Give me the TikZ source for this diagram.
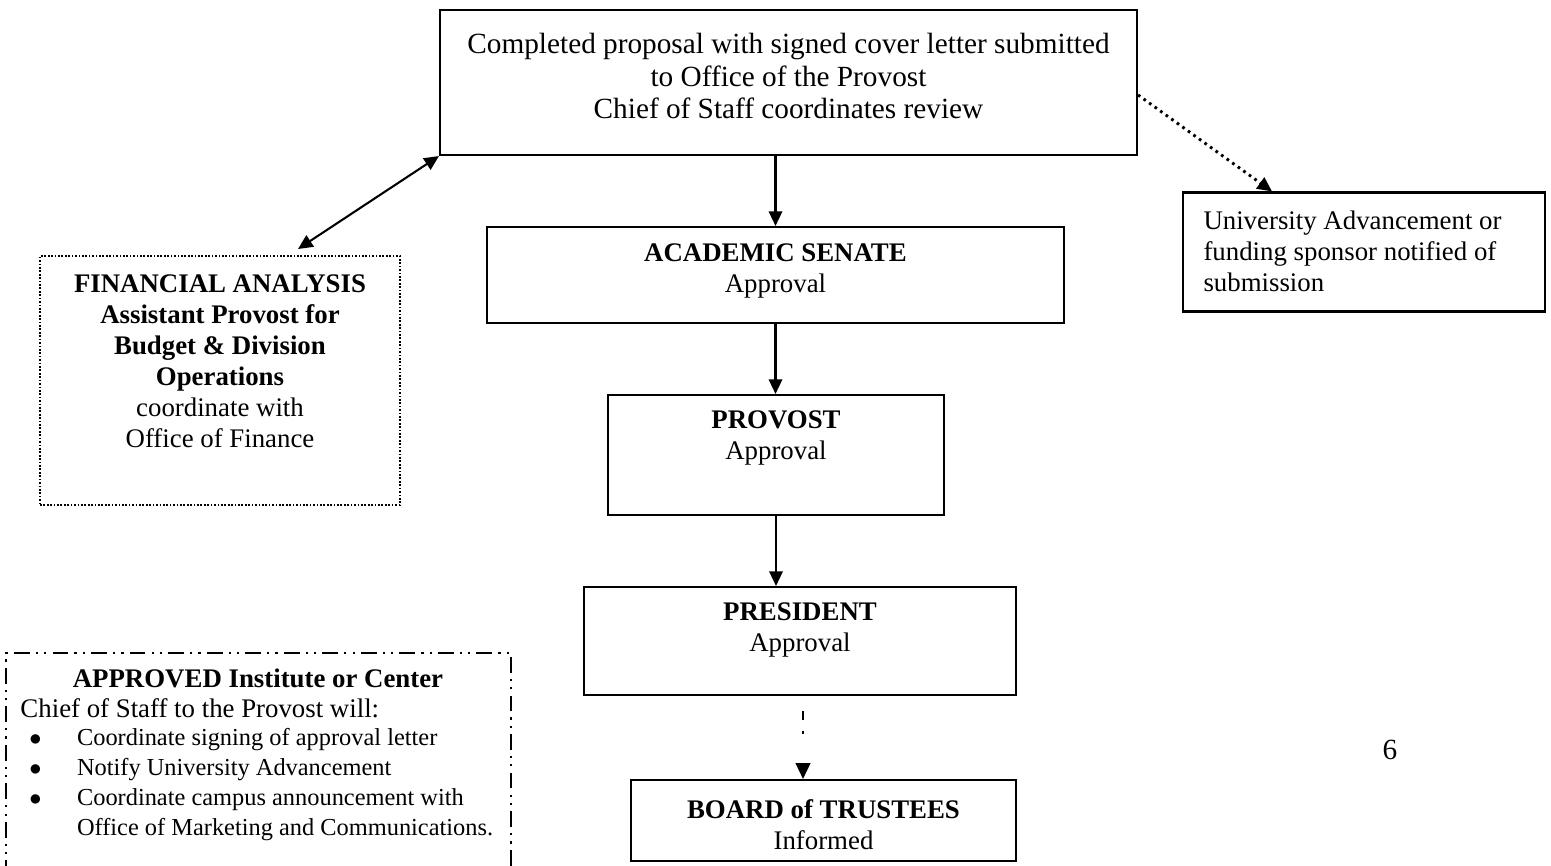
\documentclass[tikz,border=0pt]{standalone}
\usepackage{fontspec}
\setmainfont{Liberation Serif}
\usetikzlibrary{arrows.meta}
\begin{document}
\def\P{0.41pt}
\begin{tikzpicture}[x=0.41pt,y=-0.41pt,
  box/.style={draw, line width=0.85pt, inner sep=0pt},
  finbox/.style={draw, line width=0.8pt, dash pattern=on 0.7pt off 0.7pt, inner sep=0pt},
  apprbox/.style={draw, line width=0.7pt, dash pattern=on 6.5pt off 2.5pt on 0.9pt off 2.5pt on 0.9pt off 2.5pt, inner sep=0pt},
  txt/.style={inner sep=0pt, align=center, font=\fontsize{11}{12.7}\selectfont},
  arr/.style={line width=0.85pt, -{Triangle[length=6pt,width=5.5pt]}},
  dblarr/.style={line width=0.85pt, {Triangle[length=6pt,width=5.5pt]}-{Triangle[length=6pt,width=5.5pt]}},
  dotarr/.style={line width=1.2pt, dash pattern=on 1.1pt off 1.7pt, -{Triangle[length=6pt,width=5.5pt]}},
  dashdotarr/.style={line width=0.85pt, dash pattern=on 4pt off 4.5pt on 0.9pt off 20pt, -{Triangle[length=6.5pt,width=6pt]}},
]
\useasboundingbox (0,0) rectangle (1551,865);
\clip (0,0) rectangle (1551,865);
\fill[white] (0,0) rectangle (1551,865);

% boxes
\node[box, minimum width=697*\P, minimum height=145*\P] (top) at (788.5,82.5) {};
\node[txt, font=\fontsize{12}{13.3}\selectfont] (toptxt) at (788.5,76) {Completed proposal with signed cover letter submitted\\to Office of the Provost\\Chief of Staff coordinates review};

\node[box, minimum width=577*\P, minimum height=96*\P] (acad) at (775.5,275) {};
\node[txt] (acadtxt) at (775.5,270.5) {\textbf{ACADEMIC SENATE}\\Approval};

\node[box, minimum width=336*\P, minimum height=120*\P] (prov) at (776,455) {};
\node[txt] (provtxt) at (776,437.5) {\textbf{PROVOST}\\Approval};

\node[box, minimum width=432*\P, minimum height=108*\P] (pres) at (800,641) {};
\node[txt] (prestxt) at (800,629.5) {\textbf{PRESIDENT}\\Approval};

\node[box, minimum width=385*\P, minimum height=81*\P] (board) at (823.5,820.5) {};
\node[txt] (boardtxt) at (823.5,825) {\textbf{BOARD of TRUSTEES}\\Informed};

\node[box, minimum width=362*\P, minimum height=119*\P] (univ) at (1364,252) {};
\node[txt, align=left, anchor=west] (univtxt) at (1203,251) {University Advancement or\\funding sponsor notified of\\submission};

\node[finbox, minimum width=360*\P, minimum height=249*\P] (fin) at (220,380.5) {};
\node[txt] (fintxt) at (220,361.5) {\textbf{FINANCIAL ANALYSIS}\\\textbf{Assistant Provost for}\\\textbf{Budget \& Division}\\\textbf{Operations}\\coordinate with\\Office of Finance};

\node[apprbox, minimum width=505*\P, minimum height=247*\P] (appr) at (258.5,776.5) {};
\node[txt] (apprtitle) at (258,678) {\textbf{APPROVED Institute or Center}};
\node[txt, anchor=west] (apprchief) at (20,708) {Chief of Staff to the Provost will:};
\node[txt, align=left, anchor=west, font=\fontsize{10}{12.3}\selectfont] (apprlist) at (29,784.5)
  {\makebox[19.5pt][l]{$\bullet$}Coordinate signing of approval letter\\
   \makebox[19.5pt][l]{$\bullet$}Notify University Advancement\\
   \makebox[19.5pt][l]{$\bullet$}Coordinate campus announcement with\\
   \hspace*{19.5pt}Office of Marketing and Communications.};

\node[txt, font=\fontsize{12}{14}\selectfont] (pagenum) at (1390,750) {6};

% connectors
\draw[arr] (top.south -| acad.north) -- (acad.north);
\draw[arr] (acad.south) -- (acad.south |- prov.north);
\draw[arr] (prov.south) -- (prov.south |- pres.north);
\coordinate (bx) at (803,0);
\draw[dashdotarr, shorten <=6pt] (pres.south -| bx) -- (board.north -| bx);
\coordinate (finA) at (298,249);
\draw[dblarr] (finA) -- (top.south west);
\draw[dotarr] ([yshift=-5.1pt]top.east) -- ([xshift=-37.7pt]univ.north);
\end{tikzpicture}
\end{document}
